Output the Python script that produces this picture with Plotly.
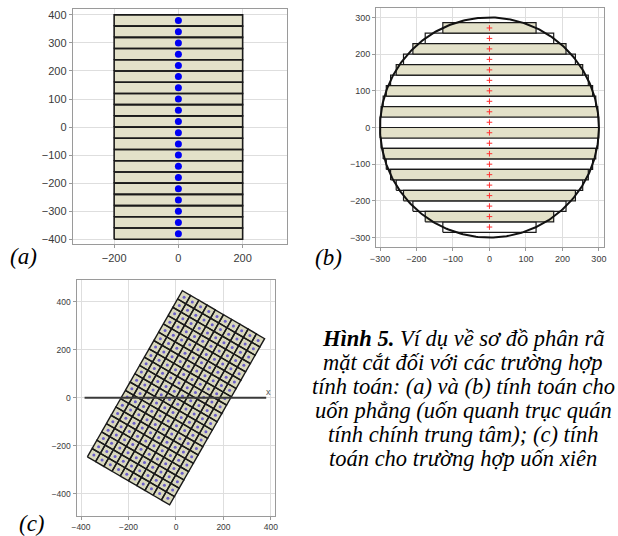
import math
import plotly.graph_objects as go

W, H = 618, 536

# ---------------- data ----------------
# (a) rectangular section 400 x 800, 20 strips of 40
a_half_width = 200
a_strip_height = 40
a_y_centers = [-380, -340, -300, -260, -220, -180, -140, -100, -60, -20,
               20, 60, 100, 140, 180, 220, 260, 300, 340, 380]

# (b) circular section R = 300, 20 strips
b_radius = 300
b_strip_height = 28.57
b_y_centers = [-271.4, -242.9, -214.3, -185.7, -157.1, -128.6, -100.0, -71.4, -42.9, -14.3,
               14.3, 42.9, 71.4, 100.0, 128.6, 157.1, 185.7, 214.3, 242.9, 271.4]
b_half_widths = [127.8, 176.1, 209.9, 235.6, 255.6, 271.0, 282.8, 291.4, 296.9, 299.7,
                 299.7, 296.9, 291.4, 282.8, 271.0, 255.6, 235.6, 209.9, 176.1, 127.8]
b_filled = [False, True, False, True, False, True, False, True, False, True,
            False, True, False, True, False, True, False, True, False, True]

# (c) rotated rectangle 400 x 800, 10 x 20 cells of 40
c_width = 400
c_height = 800
c_cell = 40
c_angle_deg = -30
c_axis_x = [-385, 380]
c_axis_y = [0, 0]

# tick labels
a_xticks = [-200, 0, 200]
a_yticks = [-400, -300, -200, -100, 0, 100, 200, 300, 400]
b_ticks = [-300, -200, -100, 0, 100, 200, 300]
c_ticks = [-400, -200, 0, 200, 400]

caption_lines = [
    "<b>Hình 5.</b> Ví dụ về sơ đồ phân rã",
    "mặt cắt đối với các trường hợp",
    "tính toán: (a) và (b) tính toán cho",
    "uốn phẳng (uốn quanh trục quán",
    "tính chính trung tâm); (c) tính",
    "toán cho trường hợp uốn xiên",
]

# ---------------- styles ----------------
FILL = "#e3e1c9"
EDGE = "#1a1a1a"
GRID = "#dedede"
FRAME = "#9a9a9a"
TICKC = "#3a3a3a"

fig = go.Figure()

def rects(xc_list, yc_list, hw_list, hh):
    xs, ys = [], []
    for xc, yc, hw in zip(xc_list, yc_list, hw_list):
        xs += [xc - hw, xc + hw, xc + hw, xc - hw, xc - hw, None]
        ys += [yc - hh, yc - hh, yc + hh, yc + hh, yc - hh, None]
    return xs, ys

# ---- (a)
xs, ys = rects([0] * len(a_y_centers), a_y_centers,
               [a_half_width] * len(a_y_centers), a_strip_height / 2)
fig.add_trace(go.Scatter(x=xs, y=ys, mode="lines", fill="toself", fillcolor=FILL,
                         line=dict(color=EDGE, width=1.6), xaxis="x", yaxis="y",
                         hoverinfo="skip", showlegend=False))
fig.add_trace(go.Scatter(x=[0] * len(a_y_centers), y=a_y_centers, mode="markers",
                         marker=dict(color="#0000f5", size=7), xaxis="x", yaxis="y",
                         showlegend=False))

# ---- (b)
for flag, color in [(False, "white"), (True, FILL)]:
    sel = [i for i, f in enumerate(b_filled) if f == flag]
    xs, ys = rects([0] * len(sel), [b_y_centers[i] for i in sel],
                   [b_half_widths[i] for i in sel], b_strip_height / 2)
    fig.add_trace(go.Scatter(x=xs, y=ys, mode="lines", fill="toself", fillcolor=color,
                             line=dict(color=EDGE, width=1.2), xaxis="x2", yaxis="y2",
                             hoverinfo="skip", showlegend=False))
t = [2 * math.pi * k / 360 for k in range(361)]
fig.add_trace(go.Scatter(x=[b_radius * math.cos(v) for v in t],
                         y=[b_radius * math.sin(v) for v in t],
                         mode="lines", line=dict(color="#111111", width=2),
                         xaxis="x2", yaxis="y2", hoverinfo="skip", showlegend=False))
fig.add_trace(go.Scatter(x=[0] * len(b_y_centers), y=b_y_centers, mode="markers",
                         marker=dict(color="#ff3030", size=4, symbol="cross-thin",
                                     line=dict(color="#ff3030", width=1)),
                         xaxis="x2", yaxis="y2", showlegend=False))

# ---- (c)
th = math.radians(c_angle_deg)
ct, st = math.cos(th), math.sin(th)
def rot(x, y):
    return x * ct - y * st, x * st + y * ct

ncol = int(c_width / c_cell)
nrow = int(c_height / c_cell)
cx, cy, dx, dy = [], [], [], []
for i in range(ncol):
    for j in range(nrow):
        x0 = -c_width / 2 + i * c_cell
        y0 = -c_height / 2 + j * c_cell
        for (qx, qy) in [(x0, y0), (x0 + c_cell, y0), (x0 + c_cell, y0 + c_cell),
                         (x0, y0 + c_cell), (x0, y0)]:
            rx, ry = rot(qx, qy)
            cx.append(rx); cy.append(ry)
        cx.append(None); cy.append(None)
        mx, my = rot(x0 + c_cell / 2, y0 + c_cell / 2)
        dx.append(mx); dy.append(my)
fig.add_trace(go.Scatter(x=cx, y=cy, mode="lines", fill="toself", fillcolor="#d9d8bd",
                         line=dict(color=EDGE, width=1.4), xaxis="x3", yaxis="y3",
                         hoverinfo="skip", showlegend=False))
fig.add_trace(go.Scatter(x=dx, y=dy, mode="markers",
                         marker=dict(color="#6b5fc8", size=3), xaxis="x3", yaxis="y3",
                         showlegend=False))
fig.add_trace(go.Scatter(x=c_axis_x, y=c_axis_y, mode="lines",
                         line=dict(color="#3a3a3a", width=2.2), xaxis="x3", yaxis="y3",
                         hoverinfo="skip", showlegend=False))

# ---------------- axes ----------------
def ax(domain, rng, ticks, size, anchor):
    return dict(domain=domain, range=rng, tickvals=ticks, showgrid=True, gridcolor=GRID,
                gridwidth=1, zeroline=False, showline=True, mirror=True, linecolor=FRAME,
                linewidth=1, ticks="outside", ticklen=3, tickcolor=FRAME,
                tickfont=dict(family="Liberation Sans, Arial", size=size, color=TICKC),
                anchor=anchor)

def px(v):
    return v / W
def py(v):
    return 1 - v / H

fig.update_layout(
    template="none",
    width=W, height=H, margin=dict(l=0, r=0, t=0, b=0),
    paper_bgcolor="white", plot_bgcolor="white", showlegend=False,
    font=dict(color="#222222"),
    xaxis=ax([px(72.7), px(287.3)], [-329, 339], a_xticks, 11, "y"),
    yaxis=ax([py(244.3), py(9.3)], [-418, 420], a_yticks, 11, "x"),
    xaxis2=ax([px(376), px(604)], [-311, 314], b_ticks, 9, "y2"),
    yaxis2=ax([py(246.7), py(8.3)], [-325, 325], b_ticks, 9, "x2"),
    xaxis3=ax([px(76.5), px(275)], [-419, 417], c_ticks, 8.5, "y3"),
    yaxis3=ax([py(516), py(279.5)], [-493, 493], c_ticks, 8.5, "x3"),
)

annos = []
serif = "Liberation Serif, Times New Roman, serif"
for txt, (x, y) in [("(a)", (24, 256)), ("(b)", (328, 257)), ("(c)", (32, 523))]:
    annos.append(dict(text=txt, x=px(x), y=py(y), xref="paper", yref="paper",
                      xanchor="center", yanchor="middle", showarrow=False,
                      font=dict(family=serif, size=23, color="black", style="italic")))
base = 345.5
for k, line in enumerate(caption_lines):
    annos.append(dict(text=line, x=px(463), y=py(base + 23.9 * k - 7),
                      xref="paper", yref="paper", xanchor="center", yanchor="middle",
                      showarrow=False,
                      font=dict(family=serif, size=22.5, color="black", style="italic")))
annos.append(dict(text="x", x=390, y=22, xref="x3", yref="y3", showarrow=False,
                  font=dict(family="Liberation Sans, Arial", size=9, color="#555555")))
fig.update_layout(annotations=annos)

fig.write_html("out.html")
